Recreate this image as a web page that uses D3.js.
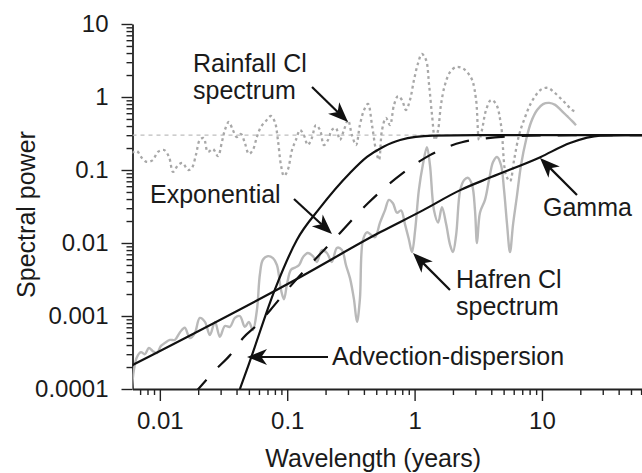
<!DOCTYPE html>
<html>
<head>
<meta charset="utf-8">
<script src="https://cdn.jsdelivr.net/npm/d3@7"></script>
<style>
  body { margin: 0; background: #fff; }
  svg { display: block; }
  text { font-family: "Liberation Sans", Arial, Helvetica, sans-serif; fill: #1a1a1a; }
</style>
</head>
<body>
<svg id="chart" width="642" height="473"></svg>
<script>
// ---- data: [wavelength (years), spectral power] ----
var rainfall = [
  [0.00603,0.171],[0.00659,0.182],[0.00723,0.146],[0.00791,0.129],[0.00881,0.137],[0.00964,0.177],
  [0.0108,0.188],[0.0118,0.151],[0.0127,0.094],[0.0139,0.117],[0.0151,0.125],[0.0166,0.100],
  [0.0178,0.106],[0.0192,0.161],[0.0206,0.258],[0.0221,0.274],[0.0238,0.177],[0.0261,0.194],
  [0.0286,0.155],[0.0307,0.242],[0.0324,0.353],[0.0348,0.455],[0.0374,0.353],[0.0402,0.283],
  [0.0433,0.311],[0.0465,0.234],[0.0500,0.166],[0.0537,0.188],[0.0578,0.283],[0.0621,0.388],
  [0.0680,0.469],[0.0745,0.549],[0.0800,0.455],[0.0845,0.258],[0.0893,0.117],[0.0943,0.083],
  [0.101,0.100],[0.109,0.188],[0.117,0.258],[0.126,0.353],[0.135,0.302],[0.145,0.220],
  [0.156,0.274],[0.168,0.413],[0.181,0.353],[0.194,0.220],[0.209,0.258],[0.224,0.353],
  [0.241,0.376],[0.259,0.258],[0.279,0.353],[0.300,0.484],[0.322,0.302],[0.347,0.220],
  [0.372,0.413],[0.401,0.664],[0.431,0.802],[0.463,0.413],[0.497,0.188],[0.525,0.137],
  [0.555,0.353],[0.596,0.516],[0.641,0.413],[0.689,0.777],[0.741,1.03],[0.796,0.910],
  [0.856,0.664],[0.920,0.910],[0.989,1.71],[1.06,2.83],[1.14,3.88],[1.23,3.21],
  [1.30,1.46],[1.37,0.567],[1.45,0.258],[1.53,0.353],[1.61,0.777],[1.73,1.46],
  [1.90,2.20],[2.12,2.58],[2.36,2.50],[2.58,2.20],[2.83,1.71],[3.04,0.910],
  [3.21,0.258],[3.38,0.353],[3.64,0.664],[3.98,0.910],[4.36,0.802],[4.77,0.413],
  [5.22,0.085],[5.61,0.070],[6.04,0.137],[6.61,0.302],[7.23,0.484],[8.06,0.777],
  [8.99,1.07],[10.0,1.29],[11.2,1.33],[12.4,1.17],[13.9,0.969],[15.5,0.802],
  [17.2,0.664],[18.9,0.623]
];

var hafren = [
  [0.00603,0.0001],[0.00625,0.00018],[0.00659,0.00027],[0.00710,0.00032],[0.00763,0.00030],
  [0.00820,0.000365],[0.00881,0.00033],[0.00948,0.00031],[0.0102,0.00039],[0.0110,0.00043],
  [0.0120,0.00047],[0.0131,0.00047],[0.0144,0.00060],[0.0157,0.00069],[0.0172,0.00050],
  [0.0188,0.00058],[0.0206,0.00094],[0.0226,0.00083],[0.0247,0.00055],[0.0271,0.00083],
  [0.0296,0.00052],[0.0324,0.00073],[0.0355,0.00071],[0.0388,0.00094],[0.0425,0.0010],
  [0.0465,0.00071],[0.0500,0.00083],[0.0537,0.00064],[0.0578,0.0012],[0.0610,0.0037],
  [0.0644,0.0059],[0.0706,0.0066],[0.0773,0.0062],[0.0830,0.0050],[0.0893,0.0023],
  [0.0943,0.0017],[0.0995,0.0027],[0.107,0.0043],[0.115,0.0046],[0.124,0.0050],
  [0.133,0.0064],[0.145,0.0073],[0.159,0.0066],[0.171,0.0055],[0.187,0.0080],
  [0.205,0.0073],[0.224,0.0055],[0.246,0.0086],[0.269,0.0080],[0.289,0.0050],
  [0.311,0.0033],[0.334,0.0017],[0.353,0.00083],[0.372,0.0017],[0.393,0.011],
  [0.423,0.014],[0.454,0.013],[0.489,0.012],[0.535,0.019],[0.585,0.028],
  [0.629,0.039],[0.676,0.035],[0.727,0.026],[0.782,0.028],[0.841,0.018],
  [0.904,0.011],[0.954,0.0075],[1.01,0.015],[1.08,0.053],[1.16,0.117],
  [1.25,0.206],[1.32,0.117],[1.42,0.028],[1.53,0.019],[1.64,0.031],
  [1.77,0.018],[1.90,0.0094],[2.00,0.0075],[2.12,0.013],[2.28,0.053],
  [2.45,0.073],[2.63,0.078],[2.83,0.062],[2.98,0.028],[3.09,0.010],
  [3.26,0.026],[3.57,0.039],[3.84,0.073],[4.13,0.129],[4.44,0.151],
  [4.77,0.117],[5.04,0.053],[5.32,0.018],[5.61,0.0075],[5.93,0.018],
  [6.37,0.045],[6.85,0.117],[7.50,0.258],[8.22,0.455],[9.16,0.664],
  [10.2,0.80],[11.4,0.83],[12.7,0.78],[14.1,0.66],[15.7,0.55],
  [17.2,0.47],[18.5,0.41]
];

var gamma = [
  [0.006,0.00021],[0.126,0.0034],[0.535,0.014],[1.16,0.028],[2.28,0.053],[4.0,0.08],
  [9.7,0.15],[16.6,0.234],[28.6,0.295],[45,0.30],[61,0.30]
];

var exponential = [
  [0.0185,0.000085],[0.0271,0.00018],[0.0355,0.00029],[0.045,0.0005],[0.0578,0.00075],
  [0.0735,0.0012],[0.096,0.0021],[0.26,0.0137],[0.43,0.035],[0.77,0.085],[1.32,0.16],
  [2.35,0.24],[3.5,0.27],[8,0.295],[20,0.30],[61,0.30]
];

var advection = [
  [0.0425,0.0001],[0.05,0.00022],[0.08,0.0023],[0.119,0.011],[0.18,0.030],[0.311,0.091],
  [0.423,0.151],[0.565,0.207],[0.77,0.258],[1.39,0.295],[3,0.30],[61,0.30]
];

var rainfallMean = 0.3;

var xTickValues = [0.01, 0.1, 1, 10];
var xTickLabels = ["0.01", "0.1", "1", "10"];
var yTickValues = [0.0001, 0.001, 0.01, 0.1, 1, 10];
var yTickLabels = ["0.0001", "0.001", "0.01", "0.1", "1", "10"];

// ---- layout ----
var plot = { left: 132.5, right: 642, top: 24, bottom: 389 };
var svg = d3.select("#chart");

var x = d3.scaleLog().domain([0.0061, 61]).range([plot.left, plot.right]);
var y = d3.scaleLog().domain([1e-4, 10]).range([plot.bottom, plot.top]);

// minor tick positions (2..9 within each decade)
function minors(scale) {
  var d = scale.domain(), out = [];
  for (var e = -5; e <= 2; e++) {
    for (var k = 2; k <= 9; k++) {
      var v = k * Math.pow(10, e);
      if (v >= d[0] && v <= d[1]) out.push(v);
    }
  }
  return out;
}

svg.append("defs").append("clipPath").attr("id", "clip")
  .append("rect")
  .attr("x", plot.left).attr("y", plot.top - 2)
  .attr("width", plot.right - plot.left).attr("height", plot.bottom - plot.top + 2);

// ---- axes ----
var yMinorG = svg.append("g").attr("transform", "translate(" + plot.left + ",0)")
  .call(d3.axisLeft(y).tickValues(minors(y)).tickSize(6).tickFormat(""));
yMinorG.select(".domain").remove();

var yAxisG = svg.append("g").attr("transform", "translate(" + plot.left + ",0)")
  .call(d3.axisLeft(y).tickValues(yTickValues).tickSize(11).tickSizeOuter(0).tickPadding(13)
    .tickFormat(function (d, i) { return yTickLabels[i]; }));

var xMinorG = svg.append("g").attr("transform", "translate(0," + plot.bottom + ")")
  .call(d3.axisBottom(x).tickValues(minors(x)).tickSize(6).tickFormat(""));
xMinorG.select(".domain").remove();

var xAxisG = svg.append("g").attr("transform", "translate(0," + plot.bottom + ")")
  .call(d3.axisBottom(x).tickValues(xTickValues).tickSize(12).tickSizeOuter(0).tickPadding(11)
    .tickFormat(function (d, i) { return xTickLabels[i]; }));

svg.selectAll(".tick line").attr("stroke", "#222").attr("stroke-width", 1.4);
svg.selectAll(".domain").attr("stroke", "#222").attr("stroke-width", 1.8);
svg.selectAll(".tick text").attr("font-size", 24).attr("fill", "#1a1a1a")
  .style("font-family", "'Liberation Sans', Arial, sans-serif");

svg.append("text")
  .attr("x", (plot.left + 614) / 2).attr("y", 467)
  .attr("text-anchor", "middle").attr("font-size", 25)
  .text("Wavelength (years)");

svg.append("text")
  .attr("transform", "translate(35," + ((plot.top + plot.bottom) / 2 + 8) + ") rotate(-90)")
  .attr("text-anchor", "middle").attr("font-size", 25)
  .text("Spectral power");

// ---- series ----
var g = svg.append("g").attr("clip-path", "url(#clip)");

var smooth = d3.line()
  .x(function (d) { return x(d[0]); })
  .y(function (d) { return y(d[1]); })
  .curve(d3.curveCatmullRom.alpha(0.5));

var model = d3.line()
  .x(function (d) { return x(d[0]); })
  .y(function (d) { return y(d[1]); })
  .curve(d3.curveMonotoneX);

g.append("line")
  .attr("x1", plot.left).attr("x2", plot.right)
  .attr("y1", y(rainfallMean)).attr("y2", y(rainfallMean))
  .attr("stroke", "#bdbdbd").attr("stroke-width", 1.3)
  .attr("stroke-dasharray", "4,4");

g.append("path").datum(rainfall)
  .attr("d", smooth).attr("fill", "none")
  .attr("stroke", "#a8a8a8").attr("stroke-width", 2.3)
  .attr("stroke-dasharray", "2.8,3.2");

g.append("path").datum(hafren)
  .attr("d", smooth).attr("fill", "none")
  .attr("stroke", "#b9b9b9").attr("stroke-width", 2.4)
  .attr("stroke-linejoin", "round");

g.append("path").datum(exponential)
  .attr("d", model).attr("fill", "none")
  .attr("stroke", "#111").attr("stroke-width", 2.2)
  .attr("stroke-dasharray", "19,17");

g.append("path").datum(advection)
  .attr("d", model).attr("fill", "none")
  .attr("stroke", "#111").attr("stroke-width", 2.2);

g.append("path").datum(gamma)
  .attr("d", model).attr("fill", "none")
  .attr("stroke", "#111").attr("stroke-width", 2.2);

// ---- annotations (pixel layout) ----
var notes = [
  { lines: ["Rainfall Cl", "spectrum"], x: 193, y: 72, from: [312, 87], to: [348, 122] },
  { lines: ["Exponential"], x: 150, y: 203, from: [294, 199], to: [332, 234] },
  { lines: ["Gamma"], x: 543, y: 216, from: [577, 195], to: [540, 158] },
  { lines: ["Hafren Cl", "spectrum"], x: 456, y: 288, from: [450, 290], to: [413, 253] },
  { lines: ["Advection-dispersion"], x: 332, y: 365, from: [328, 357], to: [247, 357] }
];

var headL = 20, headW = 8;
notes.forEach(function (n) {
  var t = svg.append("text").attr("x", n.x).attr("y", n.y).attr("font-size", 25);
  n.lines.forEach(function (s, i) {
    t.append("tspan").attr("x", n.x).attr("dy", i === 0 ? 0 : 27).text(s);
  });
  var dx = n.to[0] - n.from[0], dy = n.to[1] - n.from[1];
  var len = Math.sqrt(dx * dx + dy * dy), ux = dx / len, uy = dy / len;
  svg.append("line")
    .attr("x1", n.from[0]).attr("y1", n.from[1])
    .attr("x2", n.to[0] - ux * headL * 0.7).attr("y2", n.to[1] - uy * headL * 0.7)
    .attr("stroke", "#111").attr("stroke-width", 2.2);
  var ang = Math.atan2(dy, dx) * 180 / Math.PI;
  svg.append("path")
    .attr("transform", "translate(" + n.to[0] + "," + n.to[1] + ") rotate(" + ang + ")")
    .attr("d", "M0,0L" + (-headL) + "," + (-headW) + "L" + (-headL * 0.72) + ",0L" + (-headL) + "," + headW + "Z")
    .attr("fill", "#111");
});
</script>
</body>
</html>
